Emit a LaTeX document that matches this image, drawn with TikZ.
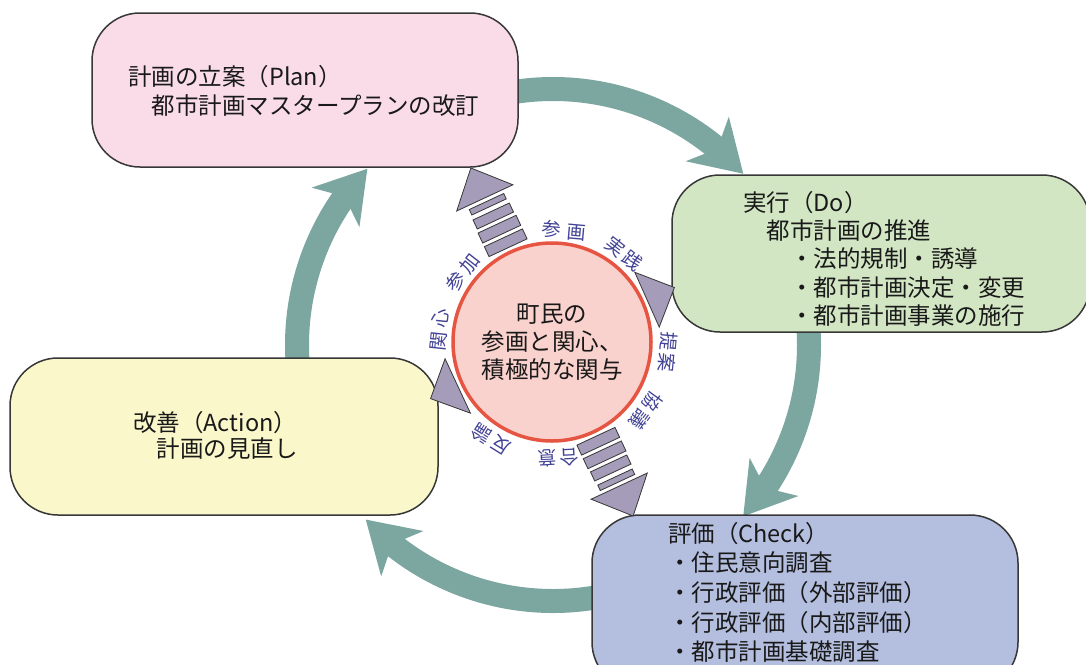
\documentclass[tikz,border=0pt]{standalone}
\usepackage{fontspec}
\setmainfont{Noto Sans CJK JP}
\usetikzlibrary{arrows.meta,bending,calc}
\definecolor{tealc}{RGB}{124,167,161}
\definecolor{planc}{RGB}{249,220,232}
\definecolor{doc}{RGB}{211,230,196}
\definecolor{checkc}{RGB}{180,190,222}
\definecolor{actc}{RGB}{250,247,202}
\definecolor{purc}{RGB}{164,156,184}
\definecolor{edgec}{RGB}{55,55,55}
\definecolor{ringc}{RGB}{229,85,66}
\definecolor{ringfill}{RGB}{250,210,205}
\definecolor{lblc}{RGB}{66,66,150}
\definecolor{txtc}{RGB}{25,25,25}
\tikzset{
  phase/.style={draw=edgec, line width=1.5pt, rounded corners=48pt, inner sep=0pt, outer sep=0pt, anchor=north west},
  phasetext/.style={anchor=north west, inner sep=0pt, align=left, text=txtc, font={\fontsize{23.5}{29}\selectfont}},
  cyc/.style={draw=tealc, line width=24pt, -{Stealth[length=50pt,width=62pt,inset=14pt,line width=0pt]}},
  purp/.style={fill=purc, draw=edgec, line width=0.8pt, line join=miter},
  lbl/.style={text=lblc, inner sep=0pt, font={\fontsize{19}{19}\selectfont}},
}
\begin{document}
\begin{tikzpicture}[x=1pt,y=1pt]
\fill[white] (0,0) rectangle (1086,-664);
\useasboundingbox (0,0) rectangle (1086,-664);

% centre of the cycle
\coordinate (c) at (553,-345);

% teal cycle arrows
\draw[cyc] ($(c)+(100:256)$) arc[start angle=100, end angle=42, radius=256];
\draw[cyc] ($(c)+(8:256)$) arc[start angle=8, end angle=-42, radius=256];
\draw[cyc] ($(c)+(-80:256)$) arc[start angle=-80, end angle=-137, radius=256];
\draw[cyc] ($(c)+(188:256)$) arc[start angle=188, end angle=136.5, radius=256];

% phase boxes
\node[phase, fill=planc, minimum width=426pt, minimum height=154pt] (plan) at (92,-13) {};
\node[phase, fill=doc, minimum width=418pt, minimum height=157pt] (do) at (672,-175) {};
\node[phase, fill=checkc, minimum width=426pt, minimum height=175pt] (check) at (592,-515) {};
\node[phase, fill=actc, minimum width=428pt, minimum height=157pt] (act) at (10,-358) {};

\node[phasetext] (plantxt) at (128,-65) {計画の立案（Plan）\\　都市計画マスタープランの改訂};
\node[phasetext, font={\fontsize{23.5}{28.3}\selectfont}] (dotxt) at (743,-191) {実行（Do）\\　都市計画の推進\\　　・法的規制・誘導\\　　・都市計画決定・変更\\　　・都市計画事業の施行};
\node[phasetext, font={\fontsize{23.5}{29.6}\selectfont}] (checktxt) at (668,-522) {評価（Check）\\・住民意向調査\\・行政評価（外部評価）\\・行政評価（内部評価）\\・都市計画基礎調査};
\node[phasetext, font={\fontsize{23.5}{26}\selectfont}] (acttxt) at (133,-411) {改善（Action）\\　計画の見直し};

% central circle
\node[circle, draw=ringc, line width=3.5pt, fill=ringfill, minimum size=198pt, inner sep=0pt] (hub) at (552,-342) {};
\node[align=center, inner sep=0pt, text=txtc, font={\fontsize{23.5}{28}\selectfont}] (hubtxt) at (hub.center)
      {町民の\\参画と関心、\\積極的な関与};

% striped arrows
\begin{scope}[shift={(hub.center)}, rotate=115]
  \draw[purp] (104,-21) rectangle (115,21);
  \draw[purp] (119,-21) rectangle (130,21);
  \draw[purp] (134,-20) rectangle (144,20);
  \draw[purp] (149,-19) rectangle (155,19);
  \draw[purp] (159,-31) -- (192,0) -- (159,31) -- cycle;
\end{scope}
\begin{scope}[shift={(hub.center)}, rotate=-65]
  \draw[purp] (104,-21) rectangle (115,21);
  \draw[purp] (119,-21) rectangle (130,21);
  \draw[purp] (134,-20) rectangle (144,20);
  \draw[purp] (149,-19) rectangle (155,19);
  \draw[purp] (159,-31) -- (192,0) -- (159,31) -- cycle;
\end{scope}
% small triangles
\begin{scope}[shift={(hub.center)}, rotate=24]
  \draw[purp] (104,-30) -- (134,0) -- (104,30) -- cycle;
\end{scope}
\begin{scope}[shift={(hub.center)}, rotate=205]
  \draw[purp] (104,-30) -- (134,0) -- (104,30) -- cycle;
\end{scope}

% labels around the circle
\node[lbl, rotate=-5]   (l1) at ($(hub.center)+(84:112)$)   {参\hspace{6pt}画};
\node[lbl, rotate=-38]  (l2) at ($(hub.center)+(51:114)$)   {実\hspace{3pt}践};
\node[lbl, rotate=-95]  (l3) at ($(hub.center)+(-5:116)$)   {提\hspace{3pt}案};
\node[lbl, rotate=-126] (l4) at ($(hub.center)+(-36:116)$)  {協\hspace{3pt}議};
\node[lbl, rotate=-177] (l5) at ($(hub.center)+(-87:116)$)  {合\hspace{3pt}意};
\node[lbl, rotate=148]  (l6) at ($(hub.center)+(-122:115)$) {反\hspace{4pt}論};
\node[lbl, rotate=84]   (l7) at ($(hub.center)+(174:113)$)  {関\hspace{4pt}心};
\node[lbl, rotate=52]   (l8) at ($(hub.center)+(142:113)$)  {参\hspace{4pt}加};
\end{tikzpicture}
\end{document}
